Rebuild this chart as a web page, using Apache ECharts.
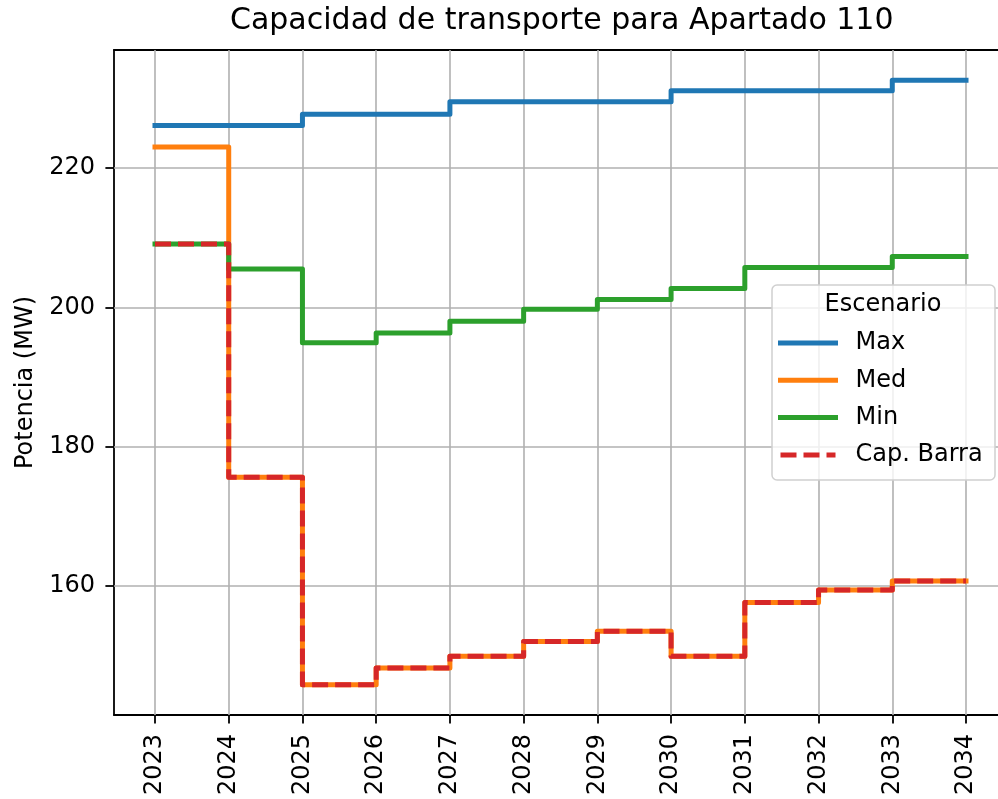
<!DOCTYPE html>
<html>
<head>
<meta charset="utf-8">
<title>Capacidad de transporte para Apartado 110</title>
<script src="https://cdn.jsdelivr.net/npm/echarts@6/dist/echarts.min.js"></script>
<style>
  html, body { margin: 0; padding: 0; background: #fff; }
  #chart { width: 998px; height: 799px; }
</style>
</head>
<body>
<div id="chart"></div>
<script>
  // years on the x axis
  var years = [2023, 2024, 2025, 2026, 2027, 2028, 2029, 2030, 2031, 2032, 2033, 2034]
  // y tick labels
  var yTicks = [160, 180, 200, 220]

  // scenario values (MW)
  var maxVals = [226.1, 226.1, 227.7, 227.7, 229.5, 229.5, 229.5, 231.1, 231.1, 231.1, 232.6, 232.6]
  var medVals = [223.0, 175.6, 145.8, 148.2, 149.9, 152.0, 153.5, 149.9, 157.6, 159.4, 160.7, 160.7]
  var minVals = [209.1, 205.5, 194.9, 196.3, 198.0, 199.7, 201.1, 202.7, 205.7, 205.7, 207.3, 207.3]
  var capBarra = [209.1, 175.6, 145.8, 148.2, 149.9, 152.0, 153.5, 149.9, 157.6, 159.4, 160.7, 160.7]

  var fontFamily = 'DejaVu Sans'

  function pairs(vals) {
    return years.map(function(y, i) {
      return [y, vals[i]]
    })
  }

  function stepSeries(name, vals, color, dashed) {
    return {
      name: name,
      type: 'line',
      step: 'end',
      symbol: 'none',
      z: 3,
      data: pairs(vals),
      lineStyle: {
        color: color,
        width: 5,
        type: dashed ? [16, 7] : 'solid',
        cap: dashed ? 'butt' : 'square',
        join: 'round'
      },
      itemStyle: {color: color},
      emphasis: {disabled: true}
    }
  }

  var chart = echarts.init(document.getElementById('chart'), null, {renderer: 'canvas'})

  var spine = {show: true, onZero: false, lineStyle: {color: '#000', width: 1.8}}

  var option = {
    animation: false,
    backgroundColor: '#ffffff',
    title: {
      text: 'Capacidad de transporte para Apartado 110',
      left: 230,
      top: 6,
      padding: 0,
      textStyle: {
        fontFamily: fontFamily,
        fontSize: 30,
        fontWeight: 'normal',
        color: '#000'
      }
    },
    // the right edge of the axes is cut off by the picture
    grid: {
      left: 114,
      top: 50,
      right: 0,
      height: 665,
      containLabel: false
    },
    xAxis: [
      {
        type: 'value',
        min: 2022.444,
        max: 2034.434,
        axisLine: spine,
        axisTick: {
          show: true,
          length: 8.6,
          customValues: years,
          lineStyle: {color: '#000', width: 1.8}
        },
        axisLabel: {
          customValues: years,
          rotate: 90,
          margin: 19,
          fontFamily: fontFamily,
          fontSize: 24,
          color: '#000',
          formatter: function(v) {
            return String(v)
          }
        },
        splitLine: {show: false}
      },
      {
        // top spine only
        type: 'value',
        position: 'top',
        min: 2022.444,
        max: 2034.434,
        axisLine: spine,
        axisTick: {show: false},
        axisLabel: {show: false},
        splitLine: {show: false}
      }
    ],
    yAxis: {
      type: 'value',
      min: 141.46,
      max: 236.94,
      name: 'Potencia (MW)',
      nameLocation: 'middle',
      nameGap: 76,
      nameTextStyle: {fontFamily: fontFamily, fontSize: 24, color: '#000'},
      axisLine: spine,
      axisTick: {
        show: true,
        length: 8.6,
        customValues: yTicks,
        lineStyle: {color: '#000', width: 1.8}
      },
      axisLabel: {
        customValues: yTicks,
        margin: 19,
        fontFamily: fontFamily,
        fontSize: 24,
        color: '#000'
      },
      splitLine: {show: false}
    },
    legend: {
      orient: 'vertical',
      left: 778,
      top: 331,
      padding: 0,
      itemWidth: 55,
      itemHeight: 24,
      itemGap: 13.3,
      z: 6,
      selectedMode: false,
      itemStyle: {opacity: 0},
      lineStyle: {width: 'inherit'},
      textStyle: {
        fontFamily: fontFamily,
        fontSize: 24,
        color: '#000',
        padding: [0, 0, 0, 15]
      },
      data: ['Max', 'Med', 'Min', 'Cap. Barra']
    },
    graphic: [
      {
        type: 'rect',
        z: 5,
        shape: {x: 772, y: 285, width: 223, height: 195, r: 5},
        style: {fill: 'rgba(255,255,255,0.8)', stroke: '#d0d0d0', lineWidth: 1.5}
      },
      {
        type: 'text',
        z: 6,
        x: 883,
        y: 305,
        style: {
          text: 'Escenario',
          fontFamily: fontFamily,
          fontSize: 24,
          fill: '#000',
          align: 'center',
          verticalAlign: 'middle'
        }
      }
    ],
    series: [
      // grid lines at the tick positions, drawn under the data
      {
        name: 'grid',
        type: 'line',
        data: [],
        z: 1,
        silent: true,
        markLine: {
          silent: true,
          z: 1,
          symbol: 'none',
          label: {show: false},
          lineStyle: {color: '#b0b0b0', width: 1.6, type: 'solid'},
          data: years.map(function(y) { return {xAxis: y} })
            .concat(yTicks.map(function(v) { return {yAxis: v} }))
        }
      },
      stepSeries('Max', maxVals, '#1f77b4', false),
      stepSeries('Med', medVals, '#ff7f0e', false),
      stepSeries('Min', minVals, '#2ca02c', false),
      stepSeries('Cap. Barra', capBarra, '#d62728', true)
    ]
  }
  chart.setOption(option)
</script>
</body>
</html>
